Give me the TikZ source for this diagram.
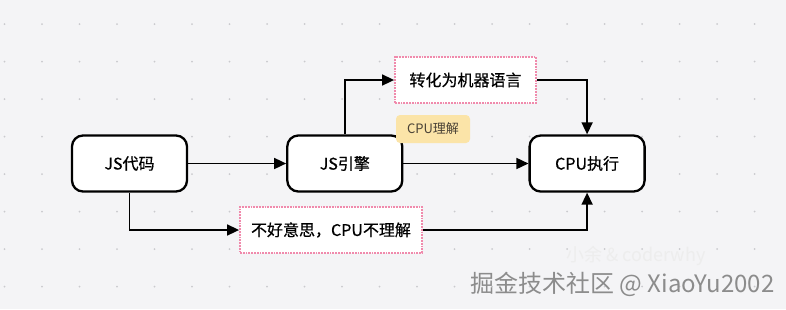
\documentclass[tikz,border=0pt]{standalone}
\usepackage{fontspec}
\setmainfont{Noto Sans CJK SC}[FakeBold=0.6]
\newfontfamily\plaincjk{Noto Sans CJK SC}
\usetikzlibrary{arrows.meta,positioning,backgrounds}
\definecolor{canvas}{HTML}{F4F4F6}
\definecolor{griddot}{HTML}{CACACE}
\definecolor{pinkdot}{HTML}{F08AAC}
\definecolor{notefill}{HTML}{FBE4A8}
\definecolor{notetext}{HTML}{4A4236}
\tikzset{
  procbox/.style={draw, line width=2.3pt, rounded corners=11pt, fill=white,
                  minimum width=115pt, minimum height=56pt,
                  font=\fontsize{16}{19}\selectfont},
  tipbox/.style={draw=pinkdot, densely dotted, line width=1.8pt, fill=white,
                 minimum height=46pt, font=\fontsize{16}{19}\selectfont},
  notebox/.style={fill=notefill, rounded corners=4pt, minimum width=74pt,
                  minimum height=28pt, text=notetext,
                  font=\plaincjk\fontsize{13}{15}\selectfont},
  flowarrow/.style={-{Triangle[length=12pt,width=11pt]}, line width=1.6pt},
  markbox/.style={inner sep=0pt, anchor=west}
}

\begin{document}
\begin{tikzpicture}[x=1pt, y=-1pt]
  \useasboundingbox (0,0) rectangle (786,309);
  \fill[canvas] (0,0) rectangle (786,309);
  % dot grid
  \foreach \gx in {0,...,20} {
    \foreach \gy in {0,...,7} {
      \fill[griddot] (4.5+37.5*\gx, 24+37.5*\gy) circle (1pt);
    }
  }
  \node[procbox] (m1) at (129.5,163.5) {JS代码};
  \node[procbox, right=98pt of m1] (m2) {JS引擎};
  \node[procbox, right=125pt of m2] (m3) {CPU执行};
  \node[tipbox, minimum width=141pt] (conv) at (465.5,80) {转化为机器语言};
  \node[tipbox, minimum width=182pt] (nope) at (331,230) {不好意思，CPU不理解};
  \node[notebox] (ok) at (433,129) {CPU理解};
  \draw[flowarrow] (m1) -- (m2);
  \draw[flowarrow] (m2) -- (m3);
  \draw[flowarrow] (m2.north) |- (conv.west);
  \draw[flowarrow] (conv.east) -| (m3.north);
  \draw[flowarrow] (m1.south) |- (nope.west);
  \draw[flowarrow] (nope.east) -| (m3.south);
  % watermark
  \node[markbox, text=black!7, font=\plaincjk\fontsize{18}{20}\selectfont] (mark2)
    at (566,256) {小余 \& coderwhy};
  \node[markbox, text=black!45, font=\plaincjk\fontsize{24}{28}\selectfont] (mark1)
    at (470,284) {掘金技术社区 @ XiaoYu2002};
\end{tikzpicture}
\end{document}
